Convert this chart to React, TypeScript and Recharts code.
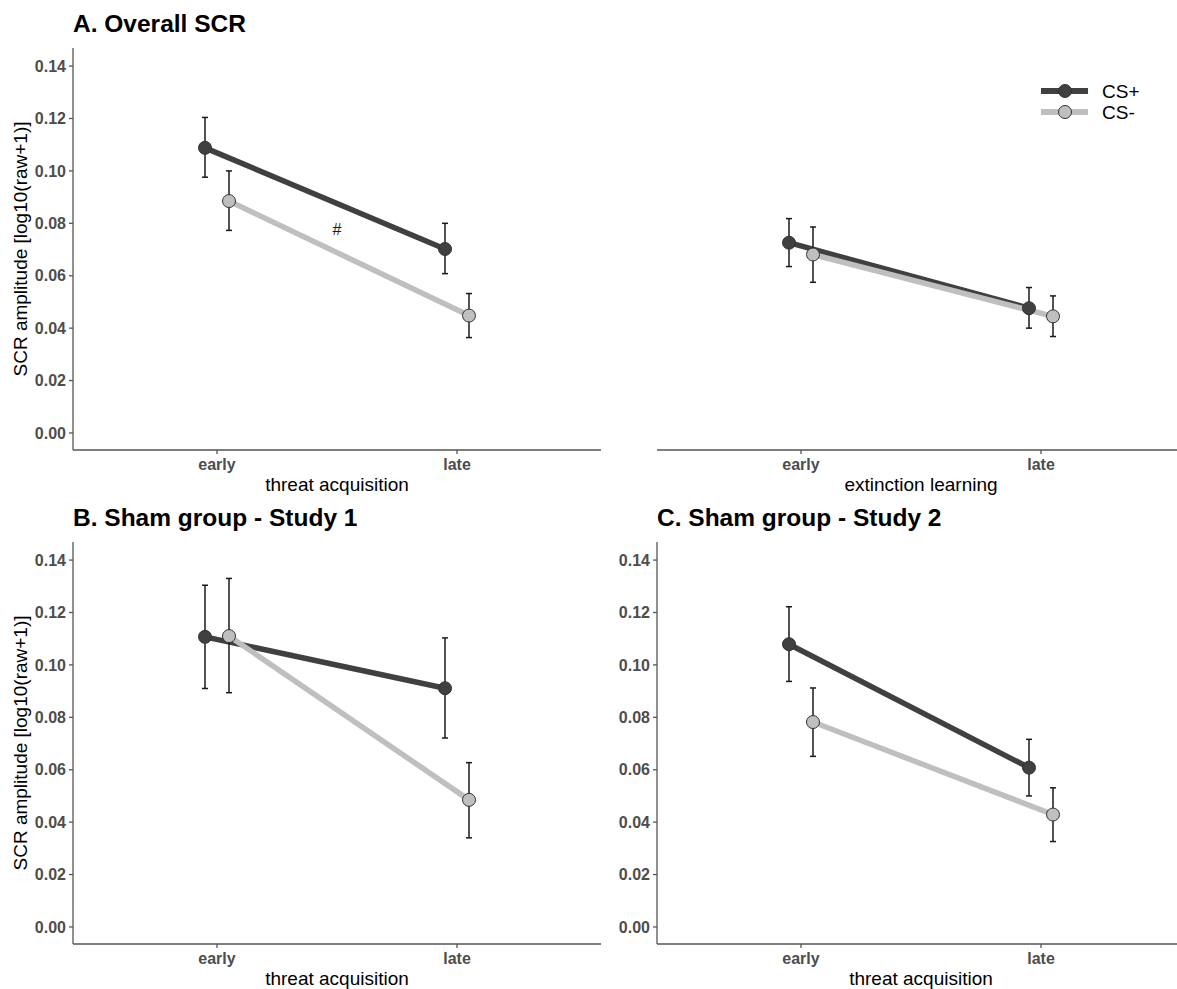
import React from 'react';
import {
  ComposedChart,
  Line,
  XAxis,
  YAxis,
  ErrorBar,
  ReferenceDot,
  Legend,
} from 'recharts';

const phases = ['early', 'late'];
const yTicks = [0, 0.02, 0.04, 0.06, 0.08, 0.1, 0.12, 0.14];

// each entry: [lower, mean, upper] for early / late
const overallAcqPlus = [[0.0976, 0.1088, 0.1204], [0.0608, 0.0702, 0.08]];
const overallAcqMinus = [[0.0773, 0.0885, 0.1], [0.0364, 0.0448, 0.0532]];
const overallExtPlus = [[0.0635, 0.0726, 0.0818], [0.04, 0.0476, 0.0555]];
const overallExtMinus = [[0.0575, 0.0681, 0.0786], [0.0368, 0.0445, 0.0523]];
const study1AcqPlus = [[0.091, 0.1107, 0.1304], [0.0721, 0.0911, 0.1103]];
const study1AcqMinus = [[0.0894, 0.111, 0.133], [0.034, 0.0485, 0.0627]];
const study2AcqPlus = [[0.0937, 0.1079, 0.1222], [0.05, 0.0608, 0.0716]];
const study2AcqMinus = [[0.0651, 0.0782, 0.0912], [0.0326, 0.0429, 0.0531]];

// trend marker between CS+ and CS- in the acquisition panel
const trendMark = { x: 1.5, y: 0.0779, text: '#' };

const series = [
  { name: 'CS+', color: '#404040', dodge: -0.05 },
  { name: 'CS-', color: '#bfbfbf', dodge: 0.05 },
];

const FONT = '"Liberation Sans", Arial, sans-serif';
const AXIS = '#555555';

const toRows = (vals: number[][], dodge: number) =>
  vals.map(([lo, m, hi], i) => ({ x: i + 1 + dodge, y: m, err: [m - lo, hi - m] }));

const LegendBox = () => (
  <svg width={140} height={50}>
    {series.map((s, i) => (
      <g key={s.name} transform={`translate(0, ${13 + i * 21})`}>
        <line x1={0} x2={47} y1={0} y2={0} stroke={s.color} strokeWidth={6} />
        <circle cx={24} cy={0} r={6.5} fill={s.color} stroke="#333" strokeWidth={1} />
        <text x={61} y={0} dy="0.35em" fontSize={19} fill="#000">
          {s.name}
        </text>
      </g>
    ))}
  </svg>
);

type PanelProps = {
  left: number;
  top: number;
  title?: string;
  xTitle: string;
  plus: number[][];
  minus: number[][];
  showY?: boolean;
  yTitle?: boolean;
  legend?: boolean;
  mark?: { x: number; y: number; text: string };
};

const Panel = ({
  left,
  top,
  title,
  xTitle,
  plus,
  minus,
  showY = true,
  yTitle = true,
  legend = false,
  mark,
}: PanelProps) => {
  const rows = [toRows(plus, series[0].dodge), toRows(minus, series[1].dodge)];
  return (
    <div style={{ position: 'absolute', left, top, width: 620, height: 500 }}>
      {title && (
        <div
          style={{
            position: 'absolute',
            left: 73,
            top: 12,
            fontSize: 24.5,
            lineHeight: '24px',
            fontWeight: 700,
            color: '#000',
            whiteSpace: 'nowrap',
          }}
        >
          {title}
        </div>
      )}
      <ComposedChart width={620} height={500} margin={{ top: 48, right: 19, bottom: 0, left: 0 }}>
        <XAxis
          type="number"
          dataKey="x"
          domain={[0.4, 2.6]}
          ticks={[1, 2]}
          tickFormatter={(v: number) => phases[v - 1]}
          height={50}
          tickSize={4}
          tickMargin={5}
          axisLine={{ stroke: AXIS, strokeWidth: 1.3 }}
          tickLine={{ stroke: AXIS, strokeWidth: 1.3 }}
          tick={{ fill: '#4d4d4d', fontSize: 16, fontWeight: 700 }}
          label={{ value: xTitle, position: 'insideBottom', offset: 9, style: { fontSize: 19, fill: '#000' } }}
        />
        {showY ? (
          <YAxis
            type="number"
            domain={[-0.0065, 0.1469]}
            ticks={yTicks}
            tickFormatter={(v: number) => v.toFixed(2)}
            width={73}
            tickSize={4}
            tickMargin={3}
            axisLine={{ stroke: AXIS, strokeWidth: 1.3 }}
            tickLine={{ stroke: AXIS, strokeWidth: 1.3 }}
            tick={{ fill: '#4d4d4d', fontSize: 16, fontWeight: 700 }}
            label={
              yTitle
                ? {
                    value: 'SCR amplitude [log10(raw+1)]',
                    angle: -90,
                    position: 'insideLeft',
                    offset: 20,
                    style: { textAnchor: 'middle', fontSize: 19, fill: '#000' },
                  }
                : undefined
            }
          />
        ) : (
          <YAxis
            type="number"
            domain={[-0.0065, 0.1469]}
            ticks={yTicks}
            width={73}
            tick={false}
            axisLine={false}
            tickLine={false}
          />
        )}
        {series.map((s, i) => (
          <Line
            key={s.name}
            data={rows[i]}
            dataKey="y"
            name={s.name}
            stroke={s.color}
            strokeWidth={5.5}
            dot={{ r: 6.5, fill: s.color, stroke: '#333', strokeWidth: 1 }}
            activeDot={false}
            isAnimationActive={false}
          />
        ))}
        {series.map((s, i) => (
          <Line
            key={`${s.name}-err`}
            data={rows[i]}
            dataKey="y"
            stroke="none"
            dot={false}
            activeDot={false}
            legendType="none"
            isAnimationActive={false}
          >
            <ErrorBar dataKey="err" direction="y" width={3} stroke="#1a1a1a" strokeWidth={1.5} />
          </Line>
        ))}
        {mark && (
          <ReferenceDot
            x={mark.x}
            y={mark.y}
            r={1}
            fill="none"
            stroke="none"
            label={{ value: mark.text, position: 'center', fontSize: 16, fill: '#1a1a1a' }}
          />
        )}
        {legend && (
          <Legend
            layout="vertical"
            align="center"
            verticalAlign="middle"
            content={() => <LegendBox />}
            wrapperStyle={{ left: 457, top: 78, width: 140, height: 50 }}
          />
        )}
      </ComposedChart>
    </div>
  );
};

export default function App() {
  return (
    <div
      style={{
        position: 'absolute',
        left: 0,
        top: 0,
        width: 1177,
        height: 989,
        overflow: 'hidden',
        background: '#fff',
        fontFamily: FONT,
      }}
    >
      <Panel left={0} top={0} title="A. Overall SCR" xTitle="threat acquisition" plus={overallAcqPlus} minus={overallAcqMinus} mark={trendMark} />
      <Panel left={584} top={0} xTitle="extinction learning" plus={overallExtPlus} minus={overallExtMinus} showY={false} legend />
      <Panel left={0} top={494} title="B. Sham group - Study 1" xTitle="threat acquisition" plus={study1AcqPlus} minus={study1AcqMinus} />
      <Panel left={584} top={494} title="C. Sham group - Study 2" xTitle="threat acquisition" plus={study2AcqPlus} minus={study2AcqMinus} yTitle={false} />
    </div>
  );
}
